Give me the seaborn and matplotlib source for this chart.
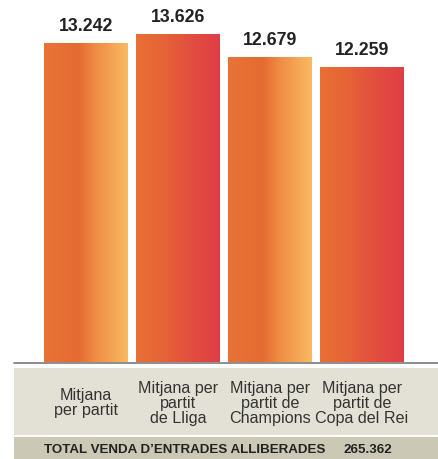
import numpy as np
import pandas as pd
import matplotlib
matplotlib.use("Agg")
import matplotlib.pyplot as plt
import seaborn as sns
from matplotlib.colors import LinearSegmentedColormap
from matplotlib.patches import Rectangle

# chart data
categories = ["Mitjana\nper partit", "Mitjana per\npartit\nde Lliga",
              "Mitjana per\npartit de\nChampions", "Mitjana per\npartit de\nCopa del Rei"]
values = [13242, 13626, 12679, 12259]
value_labels = ["13.242", "13.626", "12.679", "12.259"]
footer_label = "TOTAL VENDA D\u2019ENTRADES ALLIBERADES"
footer_value = "265.362"

W, H = 438, 459
sns.set_theme(style="white")
plt.rcParams["font.family"] = ["Liberation Sans", "DejaVu Sans"]

fig = plt.figure(figsize=(W / 100, H / 100), dpi=100)

# background layer in pixel coordinates (bands + footer)
bg = fig.add_axes([0, 0, 1, 1], zorder=0)
bg.set_xlim(0, W)
bg.set_ylim(H, 0)
bg.axis("off")
bg.add_patch(Rectangle((14, 368), W - 14, 67, color="#e3e1d6", lw=0))
bg.add_patch(Rectangle((14, 437), W - 14, 22, color="#cbc9b6", lw=0))
bg.plot([14, W], [362.5, 362.5], color="#7a7a7a", lw=1.2)
bg.text(325, 450, footer_label, ha="right", va="center",
        fontsize=9.6, fontweight="bold", color="#222222")
bg.text(343, 450, footer_value, ha="left", va="center",
        fontsize=9.6, fontweight="bold", color="#222222")

# bar axes: pixel x 14..438, y 0..362
ax = fig.add_axes([14 / W, (H - 362) / H, (W - 14) / W, 362 / H], zorder=1)
ax.patch.set_alpha(0)

df = pd.DataFrame({"cat": categories, "val": values})
sns.barplot(data=df, x="cat", y="val", order=categories, color="#e66c32",
            width=84 / 92, ax=ax, saturation=1)

warm = LinearSegmentedColormap.from_list("warm", [
    (0.0, (232 / 255, 115 / 255, 55 / 255)),
    (0.42, (228 / 255, 107 / 255, 50 / 255)),
    (0.6, (239 / 255, 138 / 255, 68 / 255)),
    (1.0, (250 / 255, 186 / 255, 98 / 255)),
])
red = LinearSegmentedColormap.from_list("red", [
    (0.0, (232 / 255, 112 / 255, 52 / 255)),
    (0.35, (230 / 255, 98 / 255, 56 / 255)),
    (0.7, (226 / 255, 76 / 255, 65 / 255)),
    (1.0, (224 / 255, 62 / 255, 70 / 255)),
])
grad = np.linspace(0, 1, 256).reshape(1, -1)
for i, bar in enumerate(ax.patches):
    x0, w, h = bar.get_x(), bar.get_width(), bar.get_height()
    cmap = warm if i % 2 == 0 else red
    im = ax.imshow(grad, cmap=cmap, aspect="auto", extent=(x0, x0 + w, 0, h),
                   zorder=2, interpolation="bicubic")
    im.set_clip_path(bar)
    ax.text(x0 + w / 2, h + 340, value_labels[i], ha="center", va="bottom",
            fontsize=12.8, fontweight="bold", color="#222222")

ax.set_xlim(-72 / 92, -72 / 92 + 424 / 92)
ax.set_ylim(0, 362 / 0.02407)
ax.axis("off")

for i, lab in enumerate(categories):
    ax.text(i, -0.114, lab, transform=ax.get_xaxis_transform(), ha="center",
            va="center", fontsize=11.6, color="#333333", linespacing=1.0,
            clip_on=False)

fig.savefig("out.png", dpi=100)
